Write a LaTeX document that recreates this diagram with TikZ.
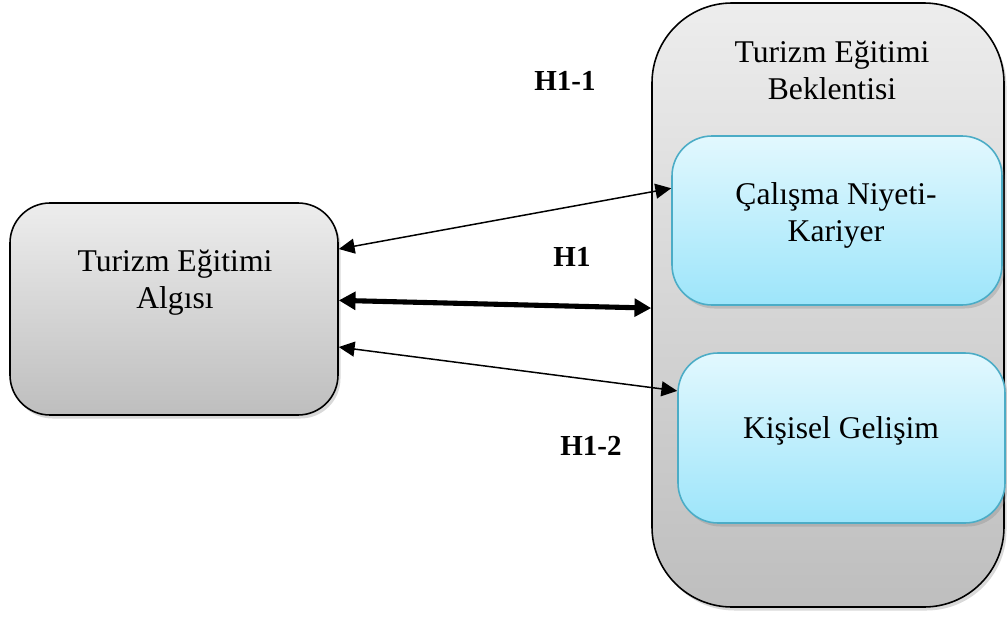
\documentclass[tikz,border=0pt]{standalone}
\usepackage{fontspec}
\setmainfont{Liberation Serif}
\usetikzlibrary{arrows.meta,shadows,calc}
\definecolor{grayTop}{HTML}{EDEDED}
\definecolor{grayBot}{HTML}{BEBEBE}
\definecolor{blueTop}{HTML}{E2F8FE}
\definecolor{blueBot}{HTML}{9DE5FA}
\definecolor{blueLine}{HTML}{4BACC6}
\tikzset{
  graybox/.style={draw=black, line width=0.9pt, top color=grayTop, bottom color=grayBot,
    drop shadow={opacity=0.3, shadow xshift=0.05cm, shadow yshift=-0.07cm}, inner sep=0pt},
  bluebox/.style={draw=blueLine, line width=0.9pt, top color=blueTop, bottom color=blueBot,
    rounded corners=0.8cm, minimum width=6.56cm, minimum height=3.38cm,
    drop shadow={opacity=0.3, shadow xshift=0.05cm, shadow yshift=-0.07cm}, inner sep=0pt},
  boxtext/.style={align=center, font=\fontsize{18}{21}\selectfont, inner sep=0pt},
  hyplabel/.style={font=\fontsize{16.5}{19}\selectfont\bfseries, inner sep=0pt},
  thinarrow/.style={line width=0.85pt, {Triangle[length=9pt,width=8.5pt]}-{Triangle[length=9pt,width=8.5pt]}},
  thickarrow/.style={line width=2.9pt, {Triangle[length=9.5pt,width=10pt]}-{Triangle[length=9.5pt,width=10pt]}}
}
\begin{document}
\begin{tikzpicture}
\useasboundingbox (0,0) rectangle (20.14,-12.38);
% boxes
\node[graybox, rounded corners=0.8cm, minimum width=6.56cm, minimum height=4.24cm] (alg) at (3.48,-6.18) {};
\node[graybox, rounded corners=1.6cm, minimum width=7.04cm, minimum height=12.08cm] (bek) at (16.56,-6.10) {};
\node[bluebox, minimum width=6.60cm] (cal) at (16.74,-4.41) {};
\node[bluebox, minimum width=6.54cm, minimum height=3.40cm] (kis) at (16.83,-8.76) {};
% texts
\node[boxtext] (algt) at (3.50,-5.65) {Turizm Eğitimi\\Algısı};
\node[boxtext] (bekt) at (16.64,-1.40) {Turizm Eğitimi\\Beklentisi};
\node[boxtext] (calt) at (16.72,-4.30) {Çalışma Niyeti-\\Kariyer};
\node[boxtext] (kist) at (16.82,-8.62) {Kişisel Gelişim};
% hypothesis labels
\node[hyplabel] (h11) at (11.30,-1.62) {H1-1};
\node[hyplabel] (h1) at (11.44,-5.14) {H1};
\node[hyplabel] (h12) at (11.82,-8.92) {H1-2};
% connectors
\draw[thinarrow] (alg.20.4) -- (cal.169.2);
\draw[thickarrow] (alg.3.8) -- (bek.181);
\draw[thinarrow] (alg.-13.4) -- (kis.164.6);
\end{tikzpicture}
\end{document}
